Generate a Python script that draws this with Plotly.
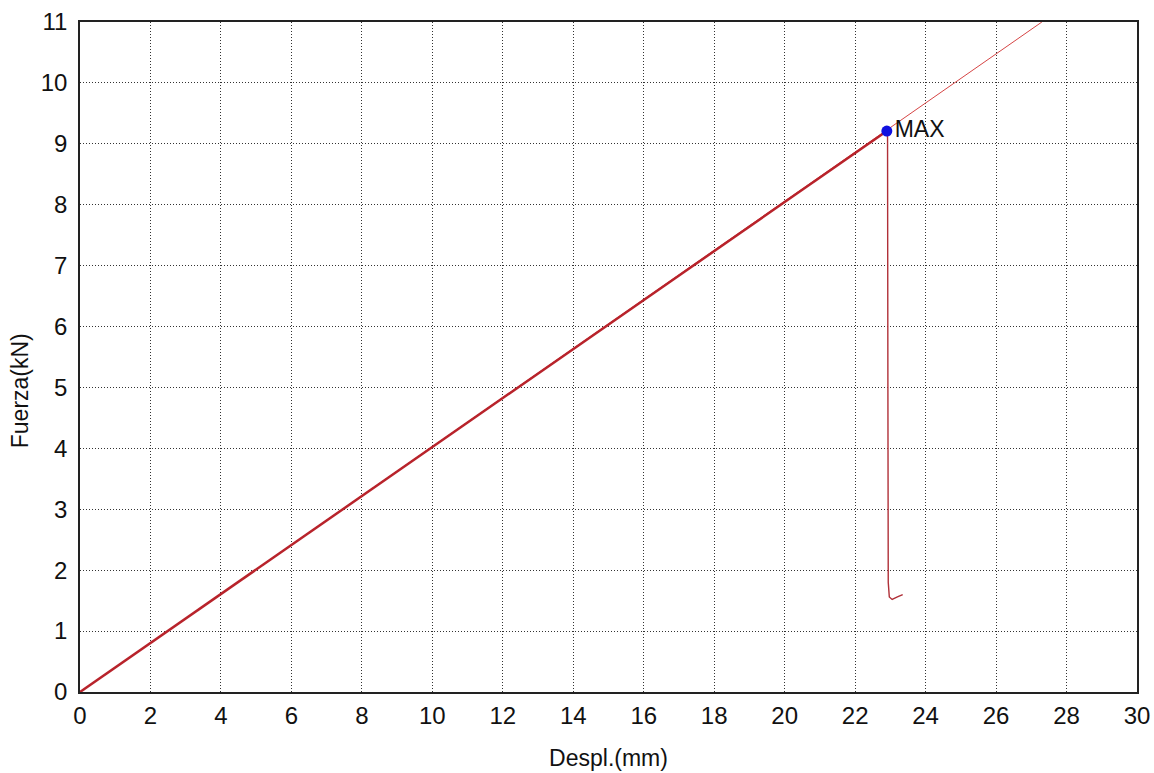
import plotly.graph_objects as go

# Load-displacement test record: loading branch up to peak
rise_x = [0.0, 2.0, 5.0, 10.0, 15.0, 20.0, 22.9]
rise_y = [0.0, 0.805, 2.01, 4.03, 6.04, 8.05, 9.21]

# Failure branch after peak load
drop_x = [22.9, 22.92, 22.93, 22.94, 22.97, 23.05, 23.2, 23.35]
drop_y = [9.21, 9.1, 5.0, 1.8, 1.56, 1.52, 1.56, 1.60]

# Linear reference line through the elastic range
ref_x = [0.0, 27.3]
ref_y = [0.0, 11.0]

# Peak load marker
max_x = [22.9]
max_y = [9.21]
max_label = ["MAX"]

x_ticks = list(range(0, 31, 2))
y_ticks = list(range(0, 12))

font_family = "Liberation Sans, Arial, sans-serif"
ink = "#111111"

fig = go.Figure()
fig.add_trace(go.Scatter(x=ref_x, y=ref_y, mode="lines",
                         line=dict(color="#d64545", width=1), hoverinfo="skip"))
fig.add_trace(go.Scatter(x=rise_x, y=rise_y, mode="lines",
                         line=dict(color="#b8232b", width=2.5)))
fig.add_trace(go.Scatter(x=drop_x, y=drop_y, mode="lines",
                         line=dict(color="#b03038", width=1.4)))
fig.add_trace(go.Scatter(x=max_x, y=max_y, mode="markers+text",
                         marker=dict(color="#1010e0", size=11),
                         text=max_label, textposition="middle right",
                         textfont=dict(size=23, color=ink, family=font_family)))

axis_common = dict(
    showgrid=True, gridcolor="#333333", griddash="1px,2px", gridwidth=1,
    showline=True, linecolor="#222222", linewidth=1.5, mirror=True,
    zeroline=False, ticks="", automargin=False,
    tickfont=dict(size=24, color=ink, family=font_family),
)

fig.update_xaxes(range=[0, 30], tickvals=x_ticks, ticklabelstandoff=1,
                 title=dict(text="Despl.(mm)", standoff=22,
                            font=dict(size=23, color=ink, family=font_family)),
                 **axis_common)
fig.update_yaxes(range=[0, 11], tickvals=y_ticks, ticklabelstandoff=6,
                 **axis_common)

# Vertical axis title, centred on the page height
fig.add_annotation(text="Fuerza(kN)", textangle=-90,
                   xref="paper", yref="paper", x=-0.057, y=0.45,
                   xanchor="center", yanchor="middle", showarrow=False,
                   font=dict(size=23, color=ink, family=font_family))

fig.update_layout(
    width=1154, height=773,
    margin=dict(l=80, r=17, t=22, b=81),
    paper_bgcolor="white", plot_bgcolor="white",
    showlegend=False,
    font=dict(family=font_family),
)

fig.write_html("out.html")
